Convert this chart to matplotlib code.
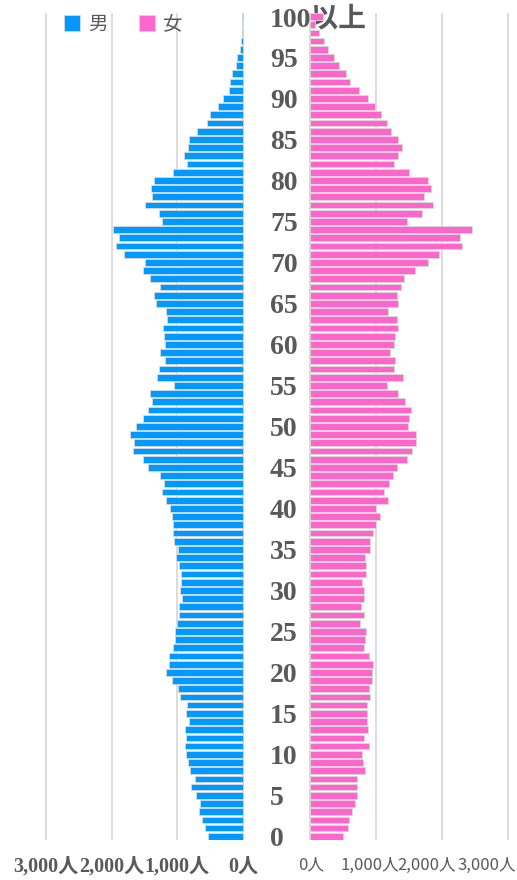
import matplotlib.pyplot as plt
import matplotlib.transforms as mtransforms
from matplotlib.patches import Patch

# ages 0..100 (last one is "100以上")
ages = list(range(101))

male = [541, 587, 632, 668, 663, 723, 794, 734, 814, 835,
        875, 890, 875, 890, 819, 870, 855, 966, 991, 1088,
        1179, 1133, 1128, 1072, 1042, 1042, 1012, 976, 971, 926,
        966, 951, 951, 976, 1027, 997, 1047, 1062, 1067, 1078,
        1118, 1174, 1239, 1209, 1260, 1452, 1518, 1680, 1664, 1725,
        1634, 1518, 1447, 1391, 1422, 1057, 1310, 1280, 1184, 1265,
        1194, 1209, 1219, 1153, 1179, 1320, 1356, 1270, 1411, 1528,
        1492, 1816, 1932, 1892, 1973, 1239, 1285, 1492, 1386, 1401,
        1350, 1062, 855, 905, 845, 824, 703, 556, 506, 379,
        314, 218, 197, 177, 116, 96, 56, 35, 15, 10,
        25]

female = [506, 582, 597, 637, 688, 718, 718, 713, 840, 809,
          794, 890, 819, 885, 865, 865, 860, 916, 895, 941,
          946, 961, 900, 824, 840, 855, 764, 814, 779, 824,
          824, 789, 845, 855, 840, 916, 905, 961, 1007, 1057,
          1002, 1189, 1128, 1204, 1254, 1325, 1472, 1553, 1608, 1614,
          1492, 1507, 1538, 1447, 1340, 1173, 1416, 1280, 1285, 1219,
          1280, 1295, 1340, 1320, 1179, 1330, 1315, 1386, 1431, 1593,
          1791, 1963, 2301, 2281, 2463, 1472, 1705, 1866, 1735, 1841,
          1796, 1497, 1270, 1335, 1396, 1335, 1234, 1163, 1077, 986,
          880, 744, 612, 546, 440, 364, 273, 212, 137, 70,
          202]

age_ticks = list(range(0, 101, 5))
age_labels = [str(a) for a in range(0, 100, 5)] + ["100以上"]

x_ticks = [0, 1000, 2000, 3000]
x_labels = ["0人", "1,000人", "2,000人", "3,000人"]

blue = "#0099FF"
pink = "#FF66CC"
grey_text = "#595959"
grid_col = "#D9D9D9"

W, H = 517, 880
fig = plt.figure(figsize=(W / 100, H / 100), dpi=100)

ppu = 65.9 / 1000  # pixels per person
y_top, y_bot = 12.7, 840.0
ax_b = (H - y_bot) / H
ax_h = (y_bot - y_top) / H

lx0 = 45.7 - 100 * ppu
lx1 = 243.3 + 20 * ppu
rx0 = 310.0 - 20 * ppu
rx1 = 507.7 + 100 * ppu

axL = fig.add_axes([lx0 / W, ax_b, (lx1 - lx0) / W, ax_h])
axR = fig.add_axes([rx0 / W, ax_b, (rx1 - rx0) / W, ax_h])

for ax in (axL, axR):
    ax.set_ylim(-0.45, 100.46)
    for s in ax.spines.values():
        s.set_visible(False)
    ax.set_xticks(x_ticks)
    for xv in x_ticks:
        ax.axvline(xv, color=grid_col, linewidth=1.3, zorder=0)
    ax.tick_params(axis="x", length=0, pad=12)

axL.barh(ages, male, height=0.82, color=blue, edgecolor=grid_col, linewidth=0.6, zorder=2)
axR.barh(ages, female, height=0.82, color=pink, edgecolor=grid_col, linewidth=0.6, zorder=2)

axL.set_xlim(3100, -20)
axR.set_xlim(-20, 3100)

axL.set_yticks([])
axL.set_xticklabels(x_labels, fontsize=14.5, color=grey_text, fontweight="bold",
                    family=["Liberation Serif", "Noto Sans CJK JP"])

axR.set_xticklabels(x_labels, fontsize=12, color=grey_text,
                    family=["Noto Sans CJK JP", "DejaVu Sans"])
# Excel squeezes the right-hand labels leftwards to fit
shifts = [1.5, -5.7, -14.7, -20.7]
for lab, dx in zip(axR.get_xticklabels(), shifts):
    lab.set_transform(lab.get_transform() +
                      mtransforms.ScaledTranslation(dx / 100, 0, fig.dpi_scale_trans))

# age labels in the gap between the two panels
axR.set_yticks(age_ticks)
axR.set_yticklabels(age_labels, fontsize=20, color=grey_text, fontweight="bold",
                    family=["Liberation Serif", "Noto Sans CJK JP"])
axR.tick_params(axis="y", length=0, pad=(rx0 - 270) * 0.72)
for lab in axR.get_yticklabels():
    lab.set_horizontalalignment("left")
    lab.set_zorder(5)

handles = [Patch(facecolor=blue, edgecolor=grid_col, linewidth=0.6, label="男"),
           Patch(facecolor=pink, edgecolor=grid_col, linewidth=0.6, label="女")]
fig.legend(handles=handles, loc="center", bbox_to_anchor=(123 / W, 1 - 24 / H),
           ncol=2, frameon=False, handlelength=0.85, handleheight=0.85,
           handletextpad=0.4, columnspacing=1.6,
           prop={"family": ["Noto Sans CJK JP"], "size": 14}, labelcolor=grey_text)

fig.savefig("out.png", dpi=100)
